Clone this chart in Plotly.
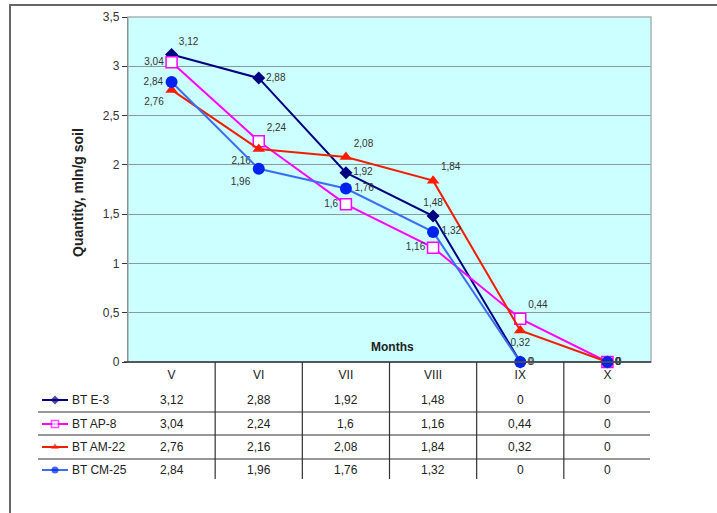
import plotly.graph_objects as go

months = ["V", "VI", "VII", "VIII", "IX", "X"]
series_names = ["BT E-3", "BT AP-8", "BT AM-22", "BT CM-25"]
bt_e3 = [3.12, 2.88, 1.92, 1.48, 0, 0]
bt_ap8 = [3.04, 2.24, 1.6, 1.16, 0.44, 0]
bt_am22 = [2.76, 2.16, 2.08, 1.84, 0.32, 0]
bt_cm25 = [2.84, 1.96, 1.76, 1.32, 0, 0]
y_ticks = [0, 0.5, 1, 1.5, 2, 2.5, 3, 3.5]

W, H = 717, 513
def px(x): return x / W
def py(y): return 1 - y / H

def fmt(v):
    return ("%g" % v).replace(".", ",")

styles = [
    dict(line=dict(color="#000080", width=2), marker=dict(symbol="diamond", size=10, color="#000080"),
         pos=["top right", "middle right", "middle right", "top center", "middle right", "middle right"]),
    dict(line=dict(color="#FF00FF", width=2), marker=dict(symbol="square", size=11, color="white", line=dict(color="#FF00FF", width=1.5)),
         pos=["middle left", "top right", "middle left", "middle left", "top right", "middle right"]),
    dict(line=dict(color="#F01E00", width=2), marker=dict(symbol="triangle-up", size=11, color="#FF1A00"),
         pos=["bottom left", "bottom left", "top right", "top right", "bottom center", "middle right"]),
    dict(line=dict(color="#3A6EF0", width=2), marker=dict(symbol="circle", size=12, color="#0022EE"),
         pos=["middle left", "bottom left", "middle right", "middle right", "middle right", "middle right"]),
]
all_data = [bt_e3, bt_ap8, bt_am22, bt_cm25]

fig = go.Figure()
for name, vals, st in zip(series_names, all_data, styles):
    fig.add_trace(go.Scatter(
        x=months, y=vals, name=name, mode="lines+markers+text",
        line=st["line"], marker=st["marker"],
        text=[fmt(v) for v in vals], textposition=st["pos"],
        textfont=dict(family="Liberation Sans, Arial", size=10, color="#333333"),
        cliponaxis=False, showlegend=False, hoverinfo="x+y",
    ))

row_y = [400, 424, 447, 470]
for name, st, ry in zip(series_names, styles, row_y):
    m0 = st["marker"]
    mk = dict(symbol=m0["symbol"], color=m0["color"], line=m0.get("line", dict(width=0)), size=[0, 7, 0])
    fig.add_trace(go.Scatter(
        x=[42, 55, 68], y=[ry, ry, ry], mode="lines+markers",
        line=dict(color=st["line"]["color"], width=2), marker=mk,
        xaxis="x2", yaxis="y2", showlegend=False, hoverinfo="skip",
    ))

tfont = dict(family="Liberation Sans, Arial", size=12, color="#222222")
annotations = []
for vals, ry in zip(all_data, row_y):
    for m, v in zip(months, vals):
        annotations.append(dict(x=m, y=py(ry), xref="x", yref="paper", text=fmt(v),
                                xanchor="center", yanchor="middle", showarrow=False, font=tfont))
for name, ry in zip(series_names, row_y):
    annotations.append(dict(x=px(70), y=py(ry), xref="paper", yref="paper", text=name,
                            xanchor="left", yanchor="middle", showarrow=False, font=tfont))
annotations.append(dict(x=px(392), y=py(347), xref="paper", yref="paper", text="<b>Months</b>",
                        xanchor="center", yanchor="middle", showarrow=False, font=tfont))
annotations.append(dict(x=px(78), y=py(193), xref="paper", yref="paper", text="<b>Quantity, mln/g soil</b>",
                        xanchor="center", yanchor="middle", textangle=-90, showarrow=False,
                        font=dict(family="Liberation Sans, Arial", size=14, color="#222222")))

shapes = []
shapes.append(dict(type="rect", xref="paper", yref="paper", x0=px(128), x1=px(651), y0=py(362), y1=py(17),
                   fillcolor="#CCFFFF", line=dict(width=0), layer="below"))
shapes.append(dict(type="rect", xref="paper", yref="paper", x0=px(10), x1=1.02, y0=-0.02, y1=py(5),
                   line=dict(color="#666666", width=2), layer="below"))
shapes.append(dict(type="rect", xref="paper", yref="paper", x0=px(128), x1=px(651), y0=py(362), y1=py(17),
                   line=dict(color="#A8B4B4", width=1.5)))
for k in range(len(months) - 1):
    shapes.append(dict(type="line", xref="x", yref="paper", x0=k + 0.5, x1=k + 0.5, y0=py(362), y1=py(479),
                       line=dict(color="#333333", width=1.2)))
for yy in [412, 435, 459]:
    shapes.append(dict(type="line", xref="paper", yref="paper", x0=px(38), x1=px(650), y0=py(yy), y1=py(yy),
                       line=dict(color="#333333", width=1.2)))
shapes.append(dict(type="line", xref="paper", yref="paper", x0=px(124), x1=px(651), y0=py(362), y1=py(362),
                   line=dict(color="#333333", width=1.5)))

fig.update_layout(
    width=W, height=H, margin=dict(l=0, r=0, t=0, b=0, pad=0, autoexpand=False),
    paper_bgcolor="white", plot_bgcolor="rgba(0,0,0,0)",
    separators=", ",
    font=dict(family="Liberation Sans, Arial", color="#333333"),
    xaxis=dict(domain=[px(128), px(651)], type="category", range=[-0.5, 5.5],
               showgrid=False, ticks="", showline=False, zeroline=False, automargin=False,
               ticklabelstandoff=4,
               tickfont=dict(size=12, color="#222222"), fixedrange=True),
    yaxis=dict(domain=[py(362), py(17)], range=[0, 3.5], tickvals=y_ticks, automargin=False,
               showgrid=True, gridcolor="#8A9A9A", gridwidth=1,
               showline=True, linecolor="#333333", linewidth=1.2,
               ticks="outside", ticklen=5, tickcolor="#333333",
               tickfont=dict(size=12, color="#333333"), zeroline=False),
    xaxis2=dict(domain=[0, 1], range=[0, W], visible=False, anchor="y2", automargin=False),
    yaxis2=dict(domain=[0, 1], range=[H, 0], visible=False, anchor="x2", automargin=False),
    annotations=annotations, shapes=shapes,
)

fig.write_html("out.html", config={"displayModeBar": False},
               post_script="document.body.style.margin='0';document.body.style.overflow='hidden';")
